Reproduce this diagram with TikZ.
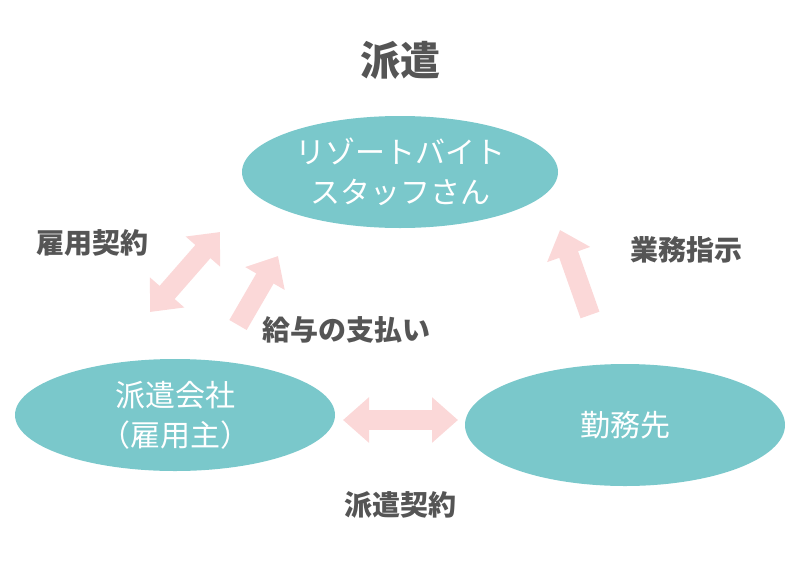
\documentclass[tikz,border=0pt]{standalone}
\usepackage{fontspec}
\setmainfont{Noto Sans CJK JP}
\usetikzlibrary{arrows.meta,shapes.geometric}
\definecolor{teal1}{HTML}{7AC8CB}
\definecolor{pinkA}{HTML}{FBD8D8}
\definecolor{txt}{HTML}{555555}
\tikzset{
 blob/.style={ellipse,fill=teal1,text=white,font=\fontsize{30}{40}\selectfont,align=center,inner sep=0pt},
 lbl/.style={text=txt,font=\bfseries\fontsize{28}{32}\selectfont},
 parrow/.style={pinkA,line width=20pt,-{Triangle[width=44pt,length=26pt]}},
 pdarrow/.style={pinkA,line width=20pt,{Triangle[width=44pt,length=26pt]}-{Triangle[width=44pt,length=26pt]}}
}
\begin{document}
\begin{tikzpicture}[x=1pt,y=-1pt]
\useasboundingbox (0,0) rectangle (800,560);
\node[lbl,font=\bfseries\fontsize{40}{44}\selectfont] (t) at (400,60) {派遣};
\node[blob,minimum width=316pt,minimum height=112pt] (s) at (400,172) {リゾートバイト\\スタッフさん};
\node[blob,minimum width=320pt,minimum height=112pt] (h) at (175,415) {派遣会社\\（雇用主）};
\node[blob,minimum width=320pt,minimum height=122pt] (k) at (625,425) {勤務先};
\coordinate (a1) at (150,312); \coordinate (a2) at (220,232);
\coordinate (b1) at (238,325); \coordinate (b2) at (278,256);
\coordinate (c1) at (590,315); \coordinate (c2) at (560,230);
\coordinate (d1) at (343,420); \coordinate (d2) at (458,420);
\draw[pdarrow] (a1) -- (a2);
\draw[parrow] (b1) -- (b2);
\draw[parrow] (c1) -- (c2);
\draw[pdarrow] (d1) -- (d2);
\node[lbl] (l1) at (92,243) {雇用契約};
\node[lbl] (l2) at (346,330) {給与の支払い};
\node[lbl] (l3) at (686,250) {業務指示};
\node[lbl] (l4) at (400,505) {派遣契約};
\end{tikzpicture}
\end{document}
